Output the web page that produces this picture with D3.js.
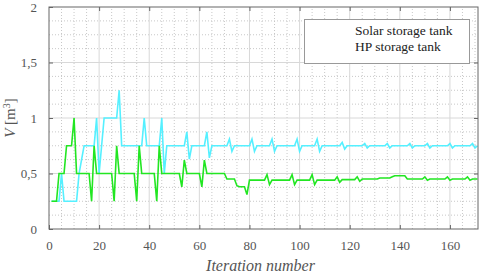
<!DOCTYPE html>
<html>
<head>
<meta charset="utf-8">
<script src="https://cdn.jsdelivr.net/npm/d3@7"></script>
<style>
  body { margin: 0; background: #fff; }
</style>
</head>
<body>
<div class="chart"></div>
<script>
(function() {
  'use strict';

  const WIDTH = 480;
  const HEIGHT = 273;

  // Series, index 0 = iteration 1
  const SOLAR = [
    .25,.25,.25,.25,.5,.25,.25,.25,.25,.25,
    .25,.5,.625,.75,.75,.75,.75,.75,1,.5,
    .75,1,1,1,1,1,1,1.25,.75,.75,
    .75,.75,.75,.75,.75,.75,.75,1,.75,.75,
    .75,.75,.75,.75,1,.5,.75,.75,.75,.75,
    .75,.75,.75,.75,.875,.63,.75,.75,.75,.75,
    .75,.75,.875,.64,.75,.75,.75,.75,.75,.75,
    .75,.81,.70,.75,.75,.75,.75,.75,.75,.75,
    .81,.70,.75,.75,.75,.75,.75,.75,.81,.70,
    .75,.75,.75,.75,.75,.75,.75,.75,.81,.70,
    .75,.75,.75,.75,.75,.75,.81,.70,.75,.75,
    .75,.75,.75,.75,.75,.75,.78,.72,.75,.75,
    .75,.75,.75,.75,.75,.77,.73,.75,.75,.75,
    .75,.75,.75,.75,.77,.73,.75,.75,.75,.75,
    .75,.75,.75,.77,.73,.75,.75,.75,.75,.75,
    .77,.73,.75,.75,.75,.75,.75,.75,.75,.77,
    .73,.75,.75,.75,.75,.75,.75,.75,.77,.73,
    .75
  ];
  const HP = [
    .25,.25,.25,.5,.5,.5,.75,.75,.75,1,
    .5,.5,.5,.5,.5,.5,.25,.75,.5,.5,
    .5,.5,.5,.5,.5,.25,.75,.5,.5,.5,
    .5,.5,.5,.5,.25,.75,.5,.5,.5,.5,
    .5,.5,.25,.75,.5,.5,.5,.5,.5,.5,
    .5,.5,.38,.62,.5,.5,.5,.5,.5,.5,
    .38,.62,.5,.5,.5,.5,.5,.5,.5,.5,
    .45,.45,.45,.45,.39,.38,.38,.38,.31,.44,
    .44,.44,.44,.44,.44,.44,.49,.40,.44,.44,
    .44,.44,.44,.44,.44,.44,.49,.40,.44,.44,
    .44,.44,.44,.44,.49,.40,.44,.44,.44,.44,
    .44,.44,.44,.44,.47,.42,.445,.445,.445,.445,
    .445,.445,.47,.43,.45,.45,.45,.45,.45,.45,
    .45,.46,.46,.46,.46,.46,.47,.48,.48,.48,
    .48,.48,.45,.45,.45,.45,.45,.45,.45,.47,
    .44,.45,.45,.45,.45,.45,.45,.45,.47,.44,
    .45,.45,.45,.45,.45,.45,.47,.44,.45,.45,
    .45
  ];
  const SERIES_NAMES = ['Solar storage tank', 'HP storage tank'];
  const X_TICKS = [0, 20, 40, 60, 80, 100, 120, 140, 160];
  const Y_TICKS = [0, 0.5, 1, 1.5, 2];
  const Y_LABELS = ['0', '0,5', '1', '1,5', '2'];

  const SERIF = '"Liberation Serif"';
  const margin = {top: 7, right: 2, bottom: 44, left: 49};

  const x = d3.scaleLinear().domain([0, 171.2]).range([margin.left, WIDTH - margin.right]);
  const y = d3.scaleLinear().domain([0, 2]).range([HEIGHT - margin.bottom, margin.top]);

  const svg = d3.select('.chart')
    .append('svg')
    .attr('width', WIDTH)
    .attr('height', HEIGHT);

  // Minor grid (dotted)
  const minorX = d3.range(5, 171, 5).filter(function(d) { return d % 20 !== 0; });
  const minorY = d3.range(0.125, 2, 0.125).filter(function(d) { return Math.abs(d * 2 - Math.round(d * 2)) > 1e-6; });

  svg.append('g').selectAll('line').data(minorX).join('line')
    .attr('x1', d => x(d)).attr('x2', d => x(d))
    .attr('y1', y(0)).attr('y2', y(2))
    .attr('stroke', '#c8c8c8').attr('stroke-dasharray', '1,2');
  svg.append('g').selectAll('line').data(minorY).join('line')
    .attr('x1', x.range()[0]).attr('x2', x.range()[1])
    .attr('y1', d => y(d)).attr('y2', d => y(d))
    .attr('stroke', '#c8c8c8').attr('stroke-dasharray', '1,2');

  // Major grid
  svg.append('g').selectAll('line').data(X_TICKS.slice(1)).join('line')
    .attr('x1', d => x(d)).attr('x2', d => x(d))
    .attr('y1', y(0)).attr('y2', y(2))
    .attr('stroke', '#d8d8d8');
  svg.append('g').selectAll('line').data(Y_TICKS.slice(1, -1)).join('line')
    .attr('x1', x.range()[0]).attr('x2', x.range()[1])
    .attr('y1', d => y(d)).attr('y2', d => y(d))
    .attr('stroke', '#d8d8d8');

  // Lines
  const line = d3.line()
    .x((d, i) => x(i + 1))
    .y(d => y(d));

  svg.append('path').datum(SOLAR)
    .attr('d', line).attr('fill', 'none')
    .attr('stroke', '#55f0ff').attr('stroke-width', 1.6);
  svg.append('path').datum(HP)
    .attr('d', line).attr('fill', 'none')
    .attr('stroke', '#22e622').attr('stroke-width', 1.6);

  // Frame with inward ticks
  const axisColor = '#666';
  svg.append('rect')
    .attr('x', x.range()[0]).attr('y', y(2))
    .attr('width', x.range()[1] - x.range()[0])
    .attr('height', y(0) - y(2))
    .attr('fill', 'none').attr('stroke', axisColor);

  const xAxis = d3.axisBottom(x).tickValues(X_TICKS).tickSize(-4).tickPadding(12);
  const gx = svg.append('g').attr('transform', 'translate(0,' + y(0) + ')').call(xAxis);
  const gxTop = svg.append('g').attr('transform', 'translate(0,' + y(2) + ')')
    .call(d3.axisTop(x).tickValues(X_TICKS.slice(1)).tickSize(-4).tickFormat(''));
  const yAxis = d3.axisLeft(y).tickValues(Y_TICKS).tickSize(-4).tickPadding(12)
    .tickFormat((d, i) => Y_LABELS[i]);
  const gy = svg.append('g').attr('transform', 'translate(' + x.range()[0] + ',0)').call(yAxis);
  const gyRight = svg.append('g').attr('transform', 'translate(' + x.range()[1] + ',0)')
    .call(d3.axisRight(y).tickValues(Y_TICKS.slice(1, -1)).tickSize(-4).tickFormat(''));

  [gx, gxTop, gy, gyRight].forEach(function(g) {
    g.select('.domain').remove();
    g.selectAll('.tick line').attr('stroke', axisColor);
    g.selectAll('.tick text')
      .attr('fill', '#555')
      .style('font-family', SERIF)
      .style('font-size', '13px');
  });

  // Axis titles
  svg.append('text')
    .attr('x', (x.range()[0] + x.range()[1]) / 2 - 3)
    .attr('y', 271)
    .attr('text-anchor', 'middle')
    .attr('fill', '#555')
    .style('font-family', SERIF)
    .style('font-size', '16px')
    .style('font-style', 'italic')
    .text('Iteration number');

  const yt = svg.append('text')
    .attr('transform', 'translate(15,' + ((y(0) + y(2)) / 2) + ') rotate(-90)')
    .attr('text-anchor', 'middle')
    .attr('fill', '#555')
    .style('font-family', SERIF)
    .style('font-size', '15px');
  yt.append('tspan').style('font-style', 'italic').text('V');
  yt.append('tspan').text(' [m');
  yt.append('tspan').attr('dy', -5).style('font-size', '10px').text('3');
  yt.append('tspan').attr('dy', 5).text(']');

  // Legend
  const lg = svg.append('g');
  lg.append('rect')
    .attr('x', 304.5).attr('y', 19.5)
    .attr('width', 165).attr('height', 44)
    .attr('fill', '#fff').attr('stroke', '#999');
  lg.selectAll('text').data(SERIES_NAMES).join('text')
    .attr('x', 355)
    .attr('y', (d, i) => 35 + i * 15.5)
    .attr('fill', '#222')
    .style('font-family', SERIF)
    .style('font-size', '13.5px')
    .text(d => d);
})();
</script>
</body>
</html>
